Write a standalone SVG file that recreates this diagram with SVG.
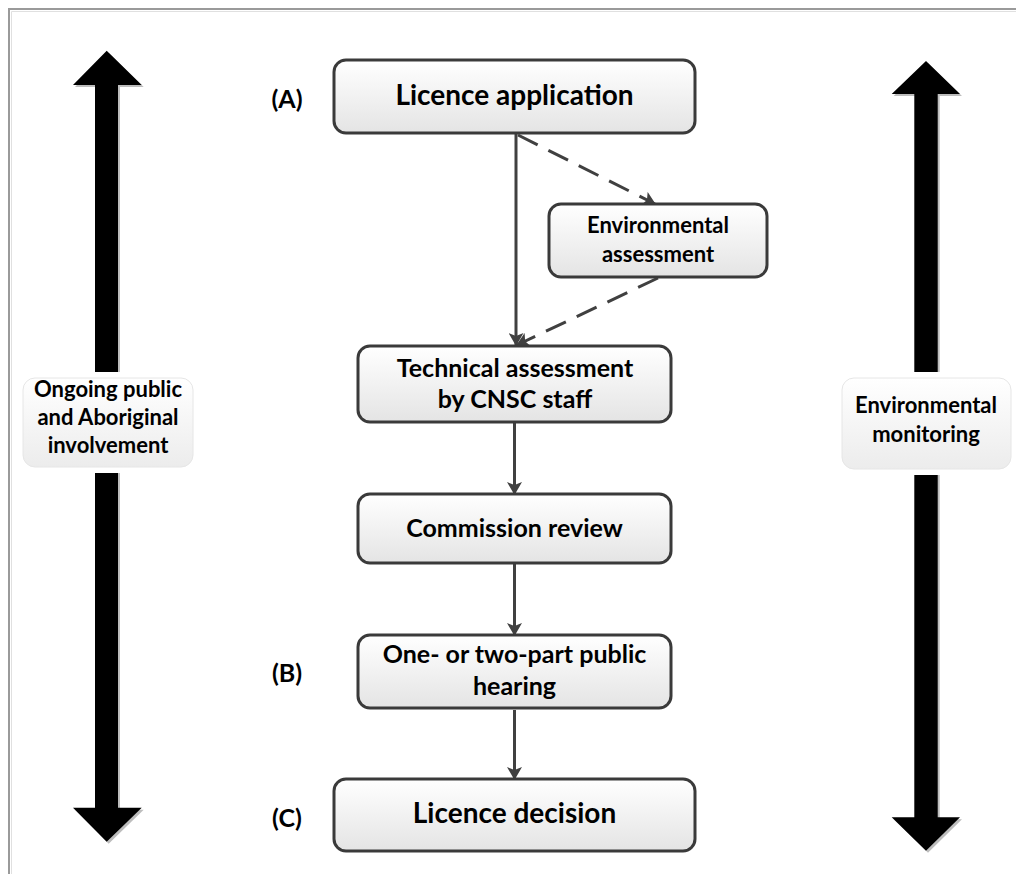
<svg xmlns="http://www.w3.org/2000/svg" width="1016" height="874" viewBox="0 0 1016 874">
<defs>
<linearGradient id="boxg" x1="0" y1="0" x2="0" y2="1">
<stop offset="0" stop-color="#ffffff"/>
<stop offset="1" stop-color="#e4e4e4"/>
</linearGradient>
<linearGradient id="labg" x1="0" y1="0" x2="0" y2="1">
<stop offset="0" stop-color="#ffffff"/>
<stop offset="1" stop-color="#ececec"/>
</linearGradient>
<marker id="ah" viewBox="0 0 13 15" refX="12" refY="7.5" markerWidth="13" markerHeight="15" markerUnits="userSpaceOnUse" orient="auto">
<path d="M0,0 L13,7.5 L0,15 L3,7.5 Z" fill="#404040"/>
</marker>
</defs>
<style>
.box{fill:url(#boxg);stroke:#3a3a3a;stroke-width:3}
.lab{fill:url(#labg);stroke:#e6e6e6;stroke-width:1}
.t{font-family:Lato,"Liberation Sans",sans-serif;font-weight:bold;fill:#000;text-anchor:middle}
.big{font-size:28px}
.mid{font-size:25px}
.sm{font-size:22px}
.conn{stroke:#404040;stroke-width:3;fill:none}
.dash{stroke-dasharray:22,12}
.arr{fill:#000}
.sh{fill:#bdbdbd}
</style>
<rect width="1016" height="874" fill="#fff"/>
<path d="M9,874 V9 H1016" fill="none" stroke="#9a9a9a" stroke-width="2"/>
<path d="M11.5,874 V11.5 H1016" fill="none" stroke="#e0e0e0" stroke-width="1"/>

<g id="left-arrow">
<path class="sh" d="M108.7,52.7 L143.7,87 L120,87 L120,809.7 L143.7,809.7 L108.7,843.7 L75,809.7 L97,809.7 L97,87 L75,87 Z"/>
<path class="arr" d="M106.7,50.7 L141.7,85 L118,85 L118,807.7 L141.7,807.7 L106.7,841.7 L73,807.7 L95,807.7 L95,85 L73,85 Z"/>
</g>
<g id="right-arrow">
<path class="sh" d="M928,63 L962,96 L939.7,96 L939.7,819.3 L962,819.3 L928,852.7 L893.7,819.3 L916.3,819.3 L916.3,96 L893.7,96 Z"/>
<path class="arr" d="M926,61 L960,94 L937.7,94 L937.7,817.3 L960,817.3 L926,850.7 L891.7,817.3 L914.3,817.3 L914.3,94 L891.7,94 Z"/>
</g>

<g id="left-label">
<rect x="17" y="372" width="182" height="101" rx="14" fill="#fff"/>
<rect class="lab" x="23" y="378" width="170" height="89" rx="12"/>
<text class="t sm" x="108" y="397">Ongoing public</text>
<text class="t sm" x="108" y="425">and Aboriginal</text>
<text class="t sm" x="108" y="453">involvement</text>
</g>
<g id="right-label">
<rect x="836" y="372" width="181" height="103" rx="14" fill="#fff"/>
<rect class="lab" x="842" y="378" width="169" height="91" rx="12"/>
<text class="t sm" x="926" y="413">Environmental</text>
<text class="t sm" x="926" y="442">monitoring</text>
</g>

<g id="connectors">
<line class="conn" x1="516" y1="134" x2="516" y2="345" marker-end="url(#ah)"/>
<line class="conn dash" x1="518" y1="135" x2="655" y2="204" marker-end="url(#ah)"/>
<line class="conn dash" x1="658" y1="278" x2="517" y2="345" marker-end="url(#ah)"/>
<line class="conn" x1="514.5" y1="423" x2="514.5" y2="494" marker-end="url(#ah)"/>
<line class="conn" x1="514.5" y1="564" x2="514.5" y2="635" marker-end="url(#ah)"/>
<line class="conn" x1="514.5" y1="710" x2="514.5" y2="779" marker-end="url(#ah)"/>
</g>

<g id="label-a"><text class="t mid" x="287" y="108">(A)</text></g>
<g id="label-b"><text class="t mid" x="287" y="682">(B)</text></g>
<g id="label-c"><text class="t mid" x="287" y="827">(C)</text></g>

<g id="licence-application">
<rect class="box" x="334" y="60" width="361" height="73" rx="12"/>
<text class="t big" x="514.5" y="105">Licence application</text>
</g>
<g id="environmental-assessment">
<rect class="box" x="549" y="204" width="218" height="73" rx="12"/>
<text class="t sm" x="658" y="233">Environmental</text>
<text class="t sm" x="658" y="262">assessment</text>
</g>
<g id="technical-assessment">
<rect class="box" x="358" y="346" width="313" height="76" rx="12"/>
<text class="t mid" x="515" y="377">Technical assessment</text>
<text class="t mid" x="515" y="408">by CNSC staff</text>
</g>
<g id="commission-review">
<rect class="box" x="358" y="494" width="313" height="69" rx="12"/>
<text class="t mid" x="514.5" y="537">Commission review</text>
</g>
<g id="public-hearing">
<rect class="box" x="358" y="635" width="313" height="73" rx="12"/>
<text class="t mid" x="514.5" y="663">One- or two-part public</text>
<text class="t mid" x="514.5" y="695">hearing</text>
</g>
<g id="licence-decision">
<rect class="box" x="334" y="779" width="361" height="72" rx="12"/>
<text class="t big" x="514.5" y="823">Licence decision</text>
</g>
</svg>
